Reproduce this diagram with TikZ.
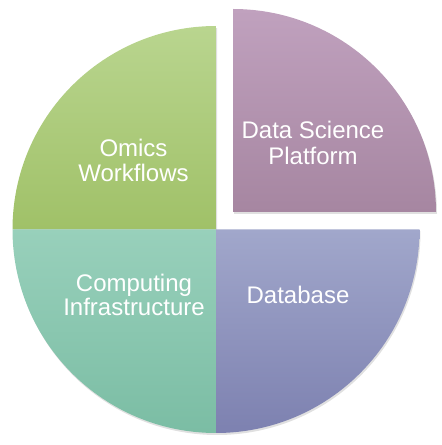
\documentclass[tikz,border=0pt]{standalone}
\usepackage{fontspec}
\setmainfont{Liberation Sans}
\definecolor{greenT}{RGB}{185,213,143}
\definecolor{greenB}{RGB}{160,193,104}
\definecolor{tealT}{RGB}{152,208,187}
\definecolor{tealB}{RGB}{123,189,164}
\definecolor{blueT}{RGB}{161,167,203}
\definecolor{blueB}{RGB}{125,129,176}
\definecolor{purpT}{RGB}{192,161,190}
\definecolor{purpB}{RGB}{166,134,161}
\begin{document}
\begin{tikzpicture}[x=1pt,y=1pt,
  shadowcopy/.style={fill=black,opacity=0.12},
  lbl/.style={text=white,font=\fontsize{24}{26}\selectfont,anchor=base,inner sep=0pt}]
\useasboundingbox (0,0) rectangle (442,445);
\coordinate (C) at (216,215.5);
\coordinate (P) at (233,233);
% shadows
\fill[shadowcopy] ([shift={(1,-2)}]C) -- ++(0,203.5) arc (90:360:203.5) -- cycle;
\fill[shadowcopy] ([shift={(1,-2)}]P) -- ++(203,0) arc (0:90:203) -- cycle;
% green (top-left)
\path[top color=greenT,bottom color=greenB]
  (C) -- ++(0,203.5) arc (90:180:203.5) -- cycle;
% teal (bottom-left)
\path[top color=tealT,bottom color=tealB]
  (C) -- ++(-203.5,0) arc (180:270:203.5) -- cycle;
% blue (bottom-right)
\path[top color=blueT,bottom color=blueB]
  (C) -- ++(0,-203.5) arc (270:360:203.5) -- cycle;
% purple (exploded, top-right)
\path[top color=purpT,bottom color=purpB]
  (P) -- ++(203,0) arc (0:90:203) -- cycle;
% labels
\node[lbl] (omics1) at (133.5,288) {Omics};
\node[lbl] (omics2) at (133.5,263) {Workflows};
\node[lbl] (dsp1) at (313,306) {Data Science};
\node[lbl] (dsp2) at (313,280) {Platform};
\node[lbl] (ci1) at (134,153) {Computing};
\node[lbl] (ci2) at (134,129) {Infrastructure};
\node[lbl] (db) at (298,141) {Database};
\end{tikzpicture}
\end{document}
